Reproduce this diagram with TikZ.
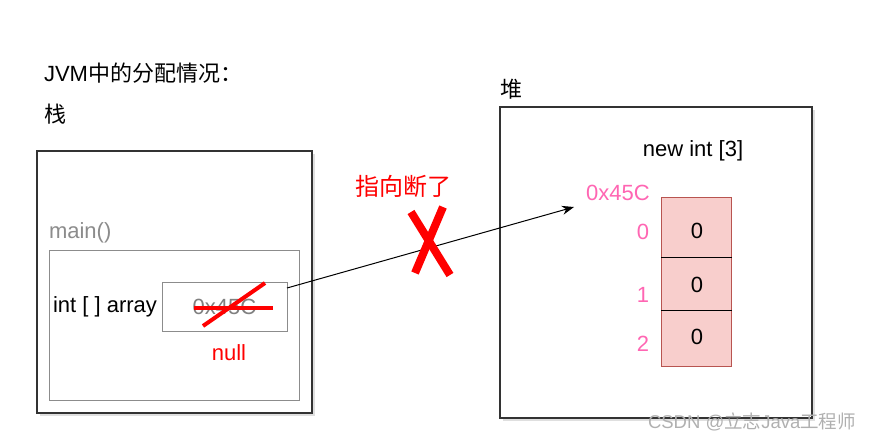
\documentclass[tikz,border=0pt]{standalone}
\usepackage{fontspec}
\setmainfont{Liberation Sans}
\newfontfamily\cjk{Noto Sans CJK SC}
\usetikzlibrary{shadows,arrows.meta}
\definecolor{boxline}{HTML}{333333}
\definecolor{innerline}{HTML}{8C8C8C}
\definecolor{pinktxt}{HTML}{FF66B3}
\definecolor{cellfill}{HTML}{F8CECC}
\definecolor{cellline}{HTML}{B85450}
\definecolor{wmark}{HTML}{B0B0B0}
\begin{document}
\begin{tikzpicture}[x=1pt,y=-1pt,
  every node/.style={inner sep=0pt,outer sep=0pt},
  txt/.style={font=\fontsize{22}{26}\selectfont},
  outerbox/.style={draw=boxline,line width=1.3pt,fill=white,anchor=north west,
    drop shadow={shadow xshift=3pt,shadow yshift=-3pt,opacity=0.25,fill=gray}},
  innerbox/.style={draw=innerline,line width=1pt,anchor=north west},
  cell/.style={draw=cellline,fill=cellfill,line width=1pt,minimum width=70pt,anchor=north west},
  redline/.style={draw=red,line width=4pt},
  redx/.style={draw=red,line width=8pt}]
\useasboundingbox (0,0) rectangle (875,440);

% titles
\node[txt,anchor=west] (title) at (44,73) {JVM{\cjk 中的分配情况：}};
\node[txt,anchor=west] (stacklbl) at (44,114) {\cjk 栈};
\node[txt,anchor=west] (heaplbl) at (500,89) {\cjk 堆};

% stack
\node[outerbox,minimum width=275pt,minimum height=262pt] (stack) at (37,151) {};
\node[txt,text=gray!90,anchor=west] (mainlbl) at (49,233) {main()};
\node[innerbox,minimum width=250pt,minimum height=150pt] (frame) at (49,250) {};
\node[txt,anchor=west] (arrlbl) at (53,307) {int [ ] array};
\node[innerbox,minimum width=125pt,minimum height=49pt] (val) at (162,282) {};
\node[txt,text=gray] (valtxt) at (val.center) {0x45C};
\node[txt,text=red] (nulltxt) at (229,353) {null};
\draw[redline] (194,308) -- (273,308);
\draw[redline] (203,326) -- (265,283);

% heap
\node[outerbox,minimum width=312pt,minimum height=311pt] (heap) at (500,107) {};
\node[txt] (newint) at (693,151) {new int [3]};
\node[txt,text=pinktxt] (addr) at (618,193) {0x45C};
\node[cell,minimum height=60pt] (c0) at (661,197) {};
\node[cell,minimum height=53pt] (c1) at (661,257) {};
\node[cell,minimum height=56pt] (c2) at (661,310) {};
\draw[black,line width=1pt] (c0.south west) -- ([xshift=1pt]c0.south east);
\draw[black,line width=1pt] (c1.south west) -- ([xshift=1pt]c1.south east);
\node[txt] (v0) at (697,231) {0};
\node[txt] (v1) at (697,285) {0};
\node[txt] (v2) at (697,337) {0};
\node[txt,text=pinktxt] (i0) at (643,232) {0};
\node[txt,text=pinktxt] (i1) at (643,295) {1};
\node[txt,text=pinktxt] (i2) at (643,344) {2};

% pointer
\coordinate (arrend) at (574,207);
\draw[line width=1pt,-{Stealth[length=12pt,width=9pt]}] ([yshift=18.5pt]val.east) -- (arrend);
\node[txt,text=red,font=\fontsize{24}{28}\selectfont\cjk] (broken) at (403,186) {指向断了};
\draw[redx] (411,212) -- (450,275);
\draw[redx] (443,207) -- (415,273);

% watermark
\node[text=wmark,font=\fontsize{18.5}{22}\selectfont,anchor=west] (wm) at (648,422) {CSDN @{\cjk 立志}Java{\cjk 工程师}};
\end{tikzpicture}
\end{document}
